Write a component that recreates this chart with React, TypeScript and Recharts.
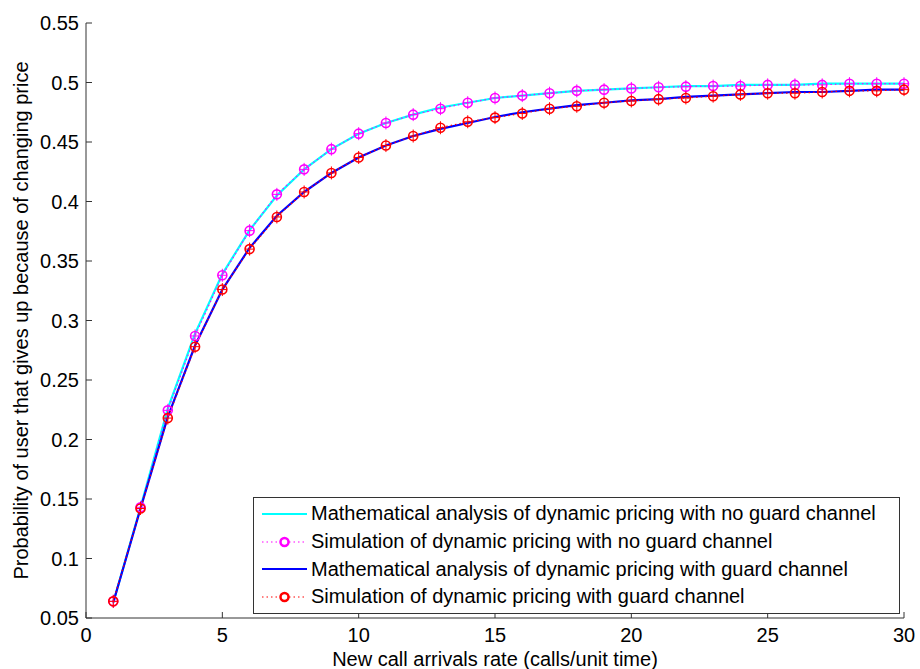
import React from 'react';
import { LineChart, Line, XAxis, YAxis, Legend } from 'recharts';

const arrivalRates = [1, 2, 3, 4, 5, 6, 7, 8, 9, 10, 11, 12, 13, 14, 15, 16, 17, 18, 19, 20, 21, 22, 23, 24, 25, 26, 27, 28, 29, 30];

const mathNoGuard = [0.063, 0.143, 0.226, 0.289, 0.339, 0.376, 0.405, 0.427, 0.444, 0.457, 0.466, 0.473, 0.479, 0.483, 0.487, 0.489, 0.491, 0.493, 0.494, 0.495, 0.496, 0.497, 0.497, 0.498, 0.498, 0.498, 0.499, 0.499, 0.499, 0.499];
const simNoGuard = [0.064, 0.143, 0.2245, 0.287, 0.338, 0.3755, 0.406, 0.427, 0.444, 0.457, 0.466, 0.473, 0.478, 0.483, 0.487, 0.489, 0.491, 0.493, 0.494, 0.495, 0.496, 0.4965, 0.497, 0.497, 0.498, 0.498, 0.498, 0.499, 0.499, 0.499];
const mathGuard = [0.063, 0.142, 0.219, 0.279, 0.326, 0.361, 0.388, 0.408, 0.424, 0.437, 0.447, 0.455, 0.461, 0.466, 0.471, 0.475, 0.478, 0.481, 0.483, 0.485, 0.486, 0.488, 0.489, 0.49, 0.491, 0.492, 0.492, 0.493, 0.494, 0.494];
const simGuard = [0.064, 0.142, 0.218, 0.278, 0.326, 0.36, 0.387, 0.408, 0.424, 0.437, 0.447, 0.455, 0.462, 0.467, 0.4705, 0.474, 0.478, 0.48, 0.483, 0.4845, 0.486, 0.487, 0.4885, 0.49, 0.491, 0.491, 0.492, 0.493, 0.493, 0.494];

const xTicks = [0, 5, 10, 15, 20, 25, 30];
const yTicks = [0.05, 0.1, 0.15, 0.2, 0.25, 0.3, 0.35, 0.4, 0.45, 0.5, 0.55];

const seriesNames = [
  'Mathematical analysis of dynamic pricing with no guard channel',
  'Simulation of dynamic pricing with no guard channel',
  'Mathematical analysis of dynamic pricing with guard channel',
  'Simulation of dynamic pricing with guard channel',
];

const data = arrivalRates.map((x, i) => ({
  x,
  mathNoGuard: mathNoGuard[i],
  simNoGuard: simNoGuard[i],
  mathGuard: mathGuard[i],
  simGuard: simGuard[i],
}));

const FONT = 'Arial, "Liberation Sans", Helvetica, sans-serif';
const AXIS = '#333';

const makeMarker = (color: string) => (props: any) => {
  const { cx, cy, index } = props;
  if (cx == null || cy == null) return <g key={index} />;
  return (
    <g key={index}>
      <circle cx={cx} cy={cy} r={4.5} fill="none" stroke={color} strokeWidth={1.6} />
      <line x1={cx - 4.5} x2={cx + 4.5} y1={cy} y2={cy} stroke={color} strokeWidth={1} />
      <line x1={cx} x2={cx} y1={cy - 6.5} y2={cy + 6.5} stroke={color} strokeWidth={1} />
    </g>
  );
};

const legendRows = [
  { name: seriesNames[0], color: '#00ffff', dotted: false },
  { name: seriesNames[1], color: '#ff00ff', dotted: true },
  { name: seriesNames[2], color: '#0000ff', dotted: false },
  { name: seriesNames[3], color: '#ff0000', dotted: true },
];

function LegendBox() {
  return (
    <div
      style={{
        width: 645,
        height: 113,
        border: `1px solid ${AXIS}`,
        background: '#fff',
        fontFamily: FONT,
        fontSize: 20,
        color: '#000',
        boxSizing: 'content-box',
        paddingTop: 2,
      }}
    >
      {legendRows.map((r) => (
        <div key={r.name} style={{ display: 'flex', alignItems: 'center', height: 27.7, whiteSpace: 'nowrap' }}>
          <svg width={56} height={20} style={{ flex: 'none' }}>
            <line
              x1={8}
              x2={53}
              y1={10}
              y2={10}
              stroke={r.color}
              strokeWidth={r.dotted ? 1.2 : 2}
              strokeDasharray={r.dotted ? '1.5 3' : undefined}
            />
            {r.dotted && (
              <circle cx={30.5} cy={10} r={4} fill="#fff" stroke={r.color} strokeWidth={2.5} />
            )}
          </svg>
          <span style={{ marginLeft: 1 }}>{r.name}</span>
        </div>
      ))}
    </div>
  );
}

const YLabel = (props: any) => {
  const vb = props.viewBox || {};
  const cy = vb.y + vb.height / 2;
  const bx = 28;
  return (
    <text
      x={bx}
      y={cy}
      transform={`rotate(-90 ${bx} ${cy})`}
      textAnchor="middle"
      fontFamily={FONT}
      fontSize={20}
      fill="#000"
    >
      Probability of user that gives up because of changing price
    </text>
  );
};

const fmt = (v: number) => String(+v.toFixed(2));

export default function App() {
  return (
    <div style={{ position: 'absolute', left: 0, top: 0, width: 920, height: 669, background: '#fff' }}>
      <LineChart width={920} height={669} data={data} margin={{ top: 23, right: 16, bottom: 0, left: 0 }}>
        <XAxis
          xAxisId="bottom"
          dataKey="x"
          type="number"
          domain={[0, 30]}
          ticks={xTicks}
          height={51}
          tickSize={-6}
          tickMargin={16}
          stroke={AXIS}
          tick={{ fill: '#000', fontSize: 20, fontFamily: FONT }}
          label={{
            value: 'New call arrivals rate (calls/unit time)',
            position: 'insideBottom',
            offset: 3,
            fill: '#000',
            fontSize: 20,
            fontFamily: FONT,
          }}
        />
        <XAxis
          xAxisId="top"
          orientation="top"
          dataKey="x"
          type="number"
          domain={[0, 30]}
          ticks={xTicks}
          height={0}
          tickSize={-6}
          tickFormatter={() => ''}
          stroke={AXIS}
        />
        <YAxis
          yAxisId="left"
          type="number"
          domain={[0.05, 0.55]}
          ticks={yTicks}
          width={86}
          tickSize={-6}
          tickMargin={13}
          tickFormatter={fmt}
          stroke={AXIS}
          tick={{ fill: '#000', fontSize: 20, fontFamily: FONT }}
          label={<YLabel />}
        />
        <YAxis
          yAxisId="right"
          orientation="right"
          type="number"
          domain={[0.05, 0.55]}
          ticks={yTicks}
          width={0}
          tickSize={-6}
          tickFormatter={() => ''}
          stroke={AXIS}
        />
        <Legend
          layout="vertical"
          align="center"
          verticalAlign="middle"
          wrapperStyle={{ position: 'absolute', left: 253, top: 497, width: 647, height: 115 }}
          content={() => <LegendBox />}
        />
        <Line
          xAxisId="bottom"
          yAxisId="left"
          dataKey="mathNoGuard"
          name={seriesNames[0]}
          stroke="#00ffff"
          strokeWidth={2.2}
          dot={false}
          type="linear"
          isAnimationActive={false}
        />
        <Line
          xAxisId="bottom"
          yAxisId="left"
          dataKey="simNoGuard"
          name={seriesNames[1]}
          stroke="#ff00ff"
          strokeWidth={1.2}
          strokeDasharray="1.5 3"
          dot={makeMarker('#ff00ff')}
          type="linear"
          isAnimationActive={false}
        />
        <Line
          xAxisId="bottom"
          yAxisId="left"
          dataKey="mathGuard"
          name={seriesNames[2]}
          stroke="#0000ff"
          strokeWidth={2.2}
          dot={false}
          type="linear"
          isAnimationActive={false}
        />
        <Line
          xAxisId="bottom"
          yAxisId="left"
          dataKey="simGuard"
          name={seriesNames[3]}
          stroke="#ff0000"
          strokeWidth={1.2}
          strokeDasharray="1.5 3"
          dot={makeMarker('#ff0000')}
          type="linear"
          isAnimationActive={false}
        />
      </LineChart>
    </div>
  );
}
